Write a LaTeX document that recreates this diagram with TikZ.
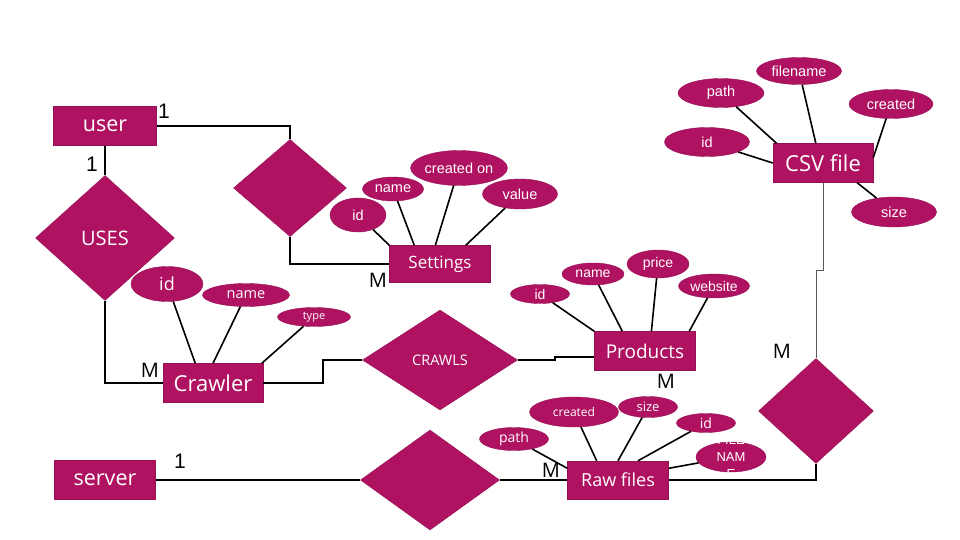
\documentclass[tikz,border=0pt]{standalone}
\usepackage{fontspec}
\setmainfont{Open Sans}
\newfontfamily\arialfont{Liberation Sans}
\usepackage{tikz}
\usetikzlibrary{shapes.geometric}
\definecolor{mag}{HTML}{B01262}

\begin{document}
\begin{tikzpicture}[x=1pt, y=-1pt,
        entity/.style={draw=mag!85!black, fill=mag, text=white, inner sep=0pt,
            minimum width=101, minimum height=39},
        rel/.style={diamond, draw=mag!85!black, fill=mag, text=white, inner sep=0pt},
        attr/.style={ellipse, draw=mag!85!black, fill=mag, text=white, inner sep=0pt},
        link/.style={line width=1.6pt},
        card/.style={inner sep=0pt, font=\fontsize{20}{22}\selectfont}]
    \useasboundingbox (0,0) rectangle (960,540);

    % Entita'
    \node[entity, minimum width=103, font=\fontsize{21.5}{24}\selectfont] (user) at (105,126) {user};
    \node[entity, font=\fontsize{21.5}{24}\selectfont] (server) at (105,480) {server};
    \node[entity, minimum width=100, font=\fontsize{22}{24}\selectfont] (crawler) at (213,383) {Crawler};
    \node[entity, minimum height=37, font=\fontsize{17}{20}\selectfont] (set) at (440,264) {Settings};
    \node[entity, font=\fontsize{19}{22}\selectfont] (prod) at (645,351) {Products};
    \node[entity, minimum height=38, font=\fontsize{18}{20}\selectfont] (raw) at (618,480) {Raw files};
    \node[entity, minimum width=100, font=\fontsize{22}{24}\selectfont] (csv) at (823,163) {CSV file};

    % Relazioni
    \node[rel, minimum width=113, minimum height=97] (dSet) at (290,188) {};
    \node[rel, minimum width=139, minimum height=125, font=\fontsize{20}{22}\selectfont] (uses) at (105,238) {USES};
    \node[rel, minimum width=155, minimum height=100, font=\fontsize{14.5}{16}\selectfont] (crawls) at (440,360) {CRAWLS};
    \node[rel, minimum width=139, minimum height=100] (dRaw) at (430,480) {};
    \node[rel, minimum width=115, minimum height=105] (dCsv) at (816,411) {};

    % Attributi
    \foreach \n/\t/\x/\y/\w/\h/\a in {
            id/id/358/215/56/34/north west, name/name/393/189/61/24/144,
            created/created on/459/168/95/35/104, value/value/520/194/75/30/36}{
            \node[attr, minimum width=\w, minimum height=\h, font=\arialfont\fontsize{14.5}{16}\selectfont] (s-\n) at (\x,\y) {\t};
            \draw[link] (s-\n) -- (set.\a);
        }
    \foreach \n/\x/\y/\w/\h/\a/\s in {
            id/167/284/72/35/132/18, name/246/295/87/23/90/14.5, type/314/317/73/19/22/11}{
            \node[attr, minimum width=\w, minimum height=\h, font=\fontsize{\s}{\s}\selectfont] (c-\n) at (\x,\y) {\n};
            \draw[link] (c-\n) -- (crawler.\a);
        }
    \foreach \n/\x/\y/\w/\h/\a in {
            id/540/294/59/19/north west, name/593/274/62/22/139,
            price/658/264/62/28/72, website/714/286/71/24/24}{
            \node[attr, minimum width=\w, minimum height=\h, font=\arialfont\fontsize{14}{16}\selectfont] (p-\n) at (\x,\y) {\n};
            \draw[link] (p-\n) -- (prod.\a);
        }
    \foreach \n/\x/\y/\w/\h/\a in {
            filename/799/71/85/27/110, path/721/93/86/29/157, created/891/104/84/29/6,
            id/707/142/85/29/west, size/894/212/85/30/330}{
            \node[attr, minimum width=\w, minimum height=\h, font=\arialfont\fontsize{14.5}{16}\selectfont] (f-\n) at (\x,\y) {\n};
            \draw[link] (f-\n) -- (csv.\a);
        }
    \foreach \n/\x/\y/\w/\h/\a/\s in {
            path/514/439/69/23/167/14, created/574/412/89/30/138/12,
            size/648/407/59/21/90/13, id/706/423/59/19/44/14}{
            \node[attr, minimum width=\w, minimum height=\h, font=\fontsize{\s}{\s}\selectfont] (r-\n) at (\x,\y) {\n};
            \draw[link] (r-\n) -- (raw.\a);
        }
    % testo che esce dall'ellisse
    \node[attr, minimum width=70, minimum height=30] (r-fname) at (731,457) {};
    \node[align=center, text=white, inner sep=0pt,
        font=\arialfont\fontsize{13}{17}\selectfont] (r-fnameTxt) at (r-fname) {FILE\\NAM\\E};
    \draw[link] (r-fname) -- (raw.13);

    % Collegamenti
    \draw[link] (user.east) -| (dSet.north);
    \draw[link] (dSet.south) |- (set.west);
    \draw[link] (user.south) -- (uses.north);
    \draw[link] (uses.south) |- (crawler.west);
    \draw[link] (crawler.east) -- ++(60,0) |- (crawls.west);
    \draw[link] (crawls.east) -- ++(37,0) |- (prod.187);
    \draw[line width=0.8pt, gray!70!black] (csv.south) -- ++(0,88) -| (dCsv.north);
    \draw[link] (dCsv.south) |- (raw.east);
    \draw[link] (raw.west) -- (dRaw.east);
    \draw[link] (server.east) -- (dRaw.west);

    % Cardinalita'
    \foreach \k/\x/\y in {a/164/111, b/92/164, c/180/461}{
            \node[card, font=\arialfont\fontsize{21}{22}\selectfont] (one-\k) at (\x,\y) {1};
        }
    \foreach \k/\x/\y in {a/378/280, b/150/370, c/666/381, d/782/351, e/551/470}{
            \node[card] (many-\k) at (\x,\y) {M};
        }
\end{tikzpicture}
\end{document}
